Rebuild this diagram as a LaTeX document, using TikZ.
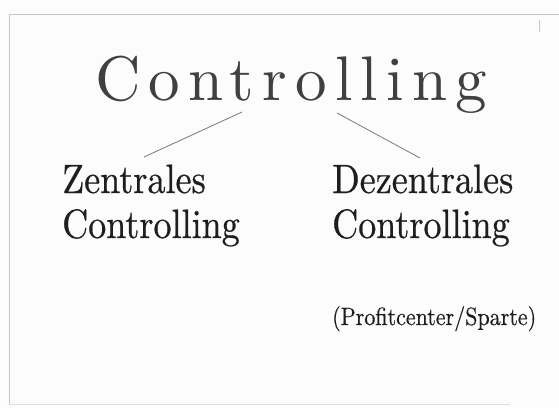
\documentclass[tikz,border=0pt]{standalone}
\usepackage{fontspec}
\newfontfamily\titlefont[LetterSpace=13]{lmroman10-regular.otf}
\newfontfamily\condfont[FakeStretch=0.88,FakeBold=0.5]{lmroman10-regular.otf}
\definecolor{bgc}{RGB}{252,252,252}
\definecolor{inkc}{RGB}{30,30,30}
\definecolor{linec}{RGB}{120,120,120}
\definecolor{framec}{RGB}{200,200,200}
\tikzset{
  titletext/.style={inner sep=0pt, anchor=base west, text=inkc!85,
    font={\titlefont\fontsize{63}{70}\selectfont}},
  subtext/.style={inner sep=0pt, anchor=base west, text=inkc,
    font={\condfont\fontsize{41}{45}\selectfont}},
  notetext/.style={inner sep=0pt, anchor=base west, text=inkc,
    font={\condfont\fontsize{25}{28}\selectfont}},
  conn/.style={draw=linec, line width=0.8pt},
  framel/.style={draw=framec, line width=1pt}
}
\begin{document}
\begin{tikzpicture}[x=1pt,y=-1pt]
\fill[bgc] (0,0) rectangle (559,407);
\useasboundingbox (0,0) rectangle (559,407);
% frame of the scanned slide
\coordinate (ftl) at (9,14);
\coordinate (ftr) at (559,14);
\coordinate (fbl) at (9,404);
\coordinate (fbr) at (510,404);
\draw[framel] (ftr) -- (ftl) -- (fbl);
\draw[framel, draw=framec!60] (fbl) -- (fbr);
\coordinate (tk1) at (539,20);
\coordinate (tk2) at (539,32);
\draw[framel] (tk1) -- (tk2);
% texts
\node[titletext] (ctl) at (95,100) {Controlling};
\node[subtext] (zen) at (62,193) {\begin{tabular}[t]{@{}l@{}}Zentrales\\Controlling\end{tabular}};
\node[subtext] (dez) at (332,193) {\begin{tabular}[t]{@{}l@{}}Dezentrales\\Controlling\end{tabular}};
\node[notetext] (pcs) at (332,325) {(Profitcenter/Sparte)};
% connectors
\coordinate (la) at (242,112);
\coordinate (lb) at (144,157);
\coordinate (ra) at (337,113);
\coordinate (rb) at (420,158);
\draw[conn] (la) -- (lb);
\draw[conn] (ra) -- (rb);
\end{tikzpicture}
\end{document}
